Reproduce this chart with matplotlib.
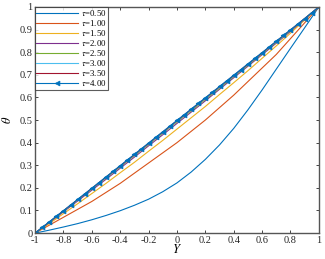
import numpy as np
import matplotlib
matplotlib.use('Agg')
import matplotlib.pyplot as plt

plt.rcParams['font.family'] = ['Liberation Serif', 'DejaVu Serif']
plt.rcParams['mathtext.fontset'] = 'stix'

# 数据
Y = np.round(np.arange(-1, 1.0001, 0.1), 2)
Y4 = np.round(np.arange(-1, 1.0001, 0.05), 2)

theta_050 = [0, 0.013, 0.027, 0.042, 0.059, 0.078, 0.099, 0.123, 0.150, 0.183, 0.222,
             0.270, 0.326, 0.390, 0.463, 0.545, 0.633, 0.725, 0.817, 0.908, 1.0]
theta_100 = [0, 0.035, 0.070, 0.105, 0.140, 0.180, 0.220, 0.265, 0.310, 0.355, 0.400,
             0.450, 0.500, 0.555, 0.610, 0.670, 0.730, 0.790, 0.860, 0.930, 1.0]
theta_150 = [0, 0.042, 0.086, 0.130, 0.175, 0.220, 0.267, 0.313, 0.362, 0.410, 0.460,
             0.510, 0.560, 0.613, 0.665, 0.718, 0.773, 0.828, 0.884, 0.942, 1.0]
theta_200 = [0, 0.047, 0.094, 0.142, 0.190, 0.238, 0.287, 0.336, 0.386, 0.435, 0.485,
             0.535, 0.585, 0.636, 0.687, 0.738, 0.789, 0.840, 0.892, 0.946, 1.0]
theta_250 = [0, 0.048, 0.097, 0.146, 0.195, 0.244, 0.293, 0.343, 0.392, 0.442, 0.492,
             0.541, 0.591, 0.641, 0.692, 0.742, 0.793, 0.844, 0.895, 0.947, 1.0]
theta_300 = [0, 0.049, 0.098, 0.147, 0.197, 0.246, 0.296, 0.346, 0.395, 0.445, 0.495,
             0.545, 0.595, 0.645, 0.695, 0.745, 0.796, 0.846, 0.897, 0.948, 1.0]
theta_350 = [0, 0.049, 0.099, 0.148, 0.198, 0.248, 0.297, 0.347, 0.397, 0.447, 0.497,
             0.547, 0.597, 0.647, 0.697, 0.747, 0.797, 0.848, 0.898, 0.949, 1.0]
theta_400 = [0, 0.025, 0.0495, 0.0745, 0.099, 0.124, 0.149, 0.174, 0.1985, 0.2235, 0.2485,
             0.2735, 0.2985, 0.3235, 0.3485, 0.3735, 0.3985, 0.4235, 0.4485, 0.4735, 0.4985,
             0.5235, 0.5485, 0.5735, 0.5985, 0.6235, 0.6485, 0.6735, 0.6985, 0.7235, 0.7485,
             0.7735, 0.7985, 0.8235, 0.8485, 0.874, 0.899, 0.924, 0.949, 0.9745, 1.0]

labels = ['0.50', '1.00', '1.50', '2.00', '2.50', '3.00', '3.50', '4.00']
colors = ['#0072BD', '#D95319', '#EDB120', '#7E2F8E', '#77AC30', '#4DBEEE', '#A2142F', '#0072BD']
series = [theta_050, theta_100, theta_150, theta_200, theta_250, theta_300, theta_350]

fig = plt.figure(figsize=(3.25, 2.59), dpi=100)
ax = fig.add_axes([0.108, 0.1, 0.873, 0.873])

for th, lab, c in zip(series, labels[:7], colors[:7]):
    ax.plot(Y, th, color=c, lw=0.8, label=r'$\tau$=' + lab)
ax.plot(Y4, theta_400, color=colors[7], lw=0.8, marker='<', ms=3.5,
        markeredgewidth=0.5, label=r'$\tau$=' + labels[7])

ax.set_xlim(-1, 1)
ax.set_ylim(0, 1)
ax.set_xticks(np.round(np.arange(-1, 1.01, 0.2), 1))
ax.set_xticklabels(['-1', '-0.8', '-0.6', '-0.4', '-0.2', '0', '0.2', '0.4', '0.6', '0.8', '1'])
ax.set_yticks(np.round(np.arange(0, 1.01, 0.1), 1))
ax.set_yticklabels(['0', '0.1', '0.2', '0.3', '0.4', '0.5', '0.6', '0.7', '0.8', '0.9', '1'])
ax.tick_params(direction='in', top=True, right=True, length=2.5, width=0.6,
               labelsize=7.5, pad=2, colors='#262626')
for s in ax.spines.values():
    s.set_color('#555555')
    s.set_linewidth(1.0)

ax.set_xlabel('$Y$', fontsize=9, labelpad=-1)
ax.set_ylabel(r'$\theta$', fontsize=9, labelpad=4)

leg = ax.legend(loc='upper left', fontsize=6.3, frameon=True, fancybox=False,
                borderpad=0.15, labelspacing=0.0, handlelength=4.8, handletextpad=0.3,
                borderaxespad=0.0)
leg.get_frame().set_edgecolor('#333333')
leg.get_frame().set_linewidth(0.8)

fig.savefig('out.png', dpi=100)
